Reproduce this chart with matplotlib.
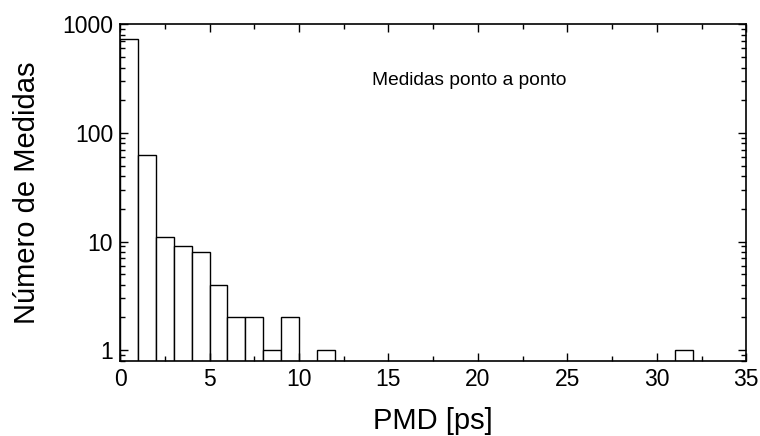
import matplotlib
matplotlib.use("Agg")
import matplotlib.pyplot as plt
from matplotlib.ticker import MultipleLocator, LogLocator, NullFormatter, FixedLocator, FixedFormatter

plt.rcParams['font.family'] = ['Liberation Sans', 'DejaVu Sans']

# histogram data: left edge of each 1 ps bin and count
bin_left = [0, 1, 2, 3, 4, 5, 6, 7, 8, 9, 11, 31]
counts = [730, 62, 11, 9, 8, 4, 2, 2, 1, 2, 1, 1]
bin_width = 1.0

fig = plt.figure(figsize=(7.6, 4.36), dpi=100)
ax = fig.add_axes([0.158, 0.173, 0.824, 0.771])

ax.bar(bin_left, counts, width=bin_width, align='edge', log=True,
       color='white', edgecolor='black', linewidth=1.0)

ax.set_xlim(0, 35)
ax.set_ylim(0.8, 1000)

ax.xaxis.set_major_locator(MultipleLocator(5))
ax.xaxis.set_minor_locator(MultipleLocator(2.5))
ax.yaxis.set_major_locator(FixedLocator([1, 10, 100, 1000]))
ax.yaxis.set_major_formatter(FixedFormatter(['1', '10', '100', '1000']))
ax.yaxis.set_minor_locator(LogLocator(base=10, subs=range(2, 10)))
ax.yaxis.set_minor_formatter(NullFormatter())

ax.tick_params(which='both', direction='in', top=True, right=True, labelsize=16.5, width=1)
ax.tick_params(which='major', length=6, pad=5)
ax.tick_params(which='minor', length=3.5)
for s in ax.spines.values():
    s.set_linewidth(1.2)

ax.set_xlabel('PMD [ps]', fontsize=21, labelpad=12)
ax.set_ylabel('Número de Medidas', fontsize=21, labelpad=15)
ax.text(0.557, 0.834, 'Medidas ponto a ponto', transform=ax.transAxes,
        fontsize=13.8, ha='center', va='center')

plt.savefig('out.png', dpi=100)
plt.close()
